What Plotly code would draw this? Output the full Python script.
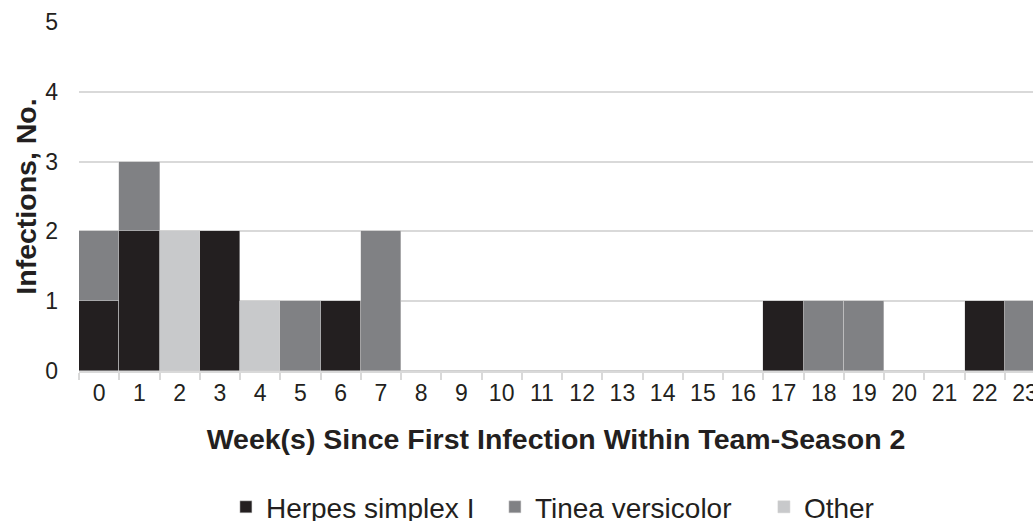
import plotly.graph_objects as go

weeks = list(range(24))
week_labels = [str(w) for w in weeks]
herpes = [1, 2, 0, 2, 0, 0, 1, 0, 0, 0, 0, 0, 0, 0, 0, 0, 0, 1, 0, 0, 0, 0, 1, 0]
tinea = [1, 1, 0, 0, 0, 1, 0, 2, 0, 0, 0, 0, 0, 0, 0, 0, 0, 0, 1, 1, 0, 0, 0, 1]
other = [0, 0, 2, 0, 1, 0, 0, 0, 0, 0, 0, 0, 0, 0, 0, 0, 0, 0, 0, 0, 0, 0, 0, 0]

series = [
    ("Herpes simplex I", herpes, "#231f20"),
    ("Tinea versicolor", tinea, "#808184"),
    ("Other", other, "#c8c9cb"),
]

fig = go.Figure()
for name, vals, color in series:
    fig.add_trace(go.Bar(
        x=weeks, y=vals, name=name,
        marker=dict(color=color, line=dict(color="#d0d0d0", width=0.5)),
    ))

font_family = "Liberation Sans, Arial, sans-serif"
fig.update_layout(
    width=1033, height=521,
    barmode="stack", bargap=0,
    plot_bgcolor="white", paper_bgcolor="white",
    margin=dict(l=79, r=0, t=22, b=150, autoexpand=False),
    font=dict(family=font_family, color="#231f20"),
    xaxis=dict(
        range=[-0.5, 23.2],
        tickmode="array", tickvals=weeks, ticktext=week_labels,
        ticks="", tickfont=dict(size=23), ticklabeloverflow="allow",
        showline=True, linecolor="#d9d9d9", linewidth=2,
        showgrid=False, automargin=False,
        minor=dict(tickvals=[w - 0.5 for w in weeks] + [23.5], ticks="outside",
                   ticklen=7, tickcolor="#d9d9d9", tickwidth=1.5, showgrid=False),
        title=dict(text="<b>Week(s) Since First Infection Within Team-Season 2</b>",
                   font=dict(size=28.5), standoff=24),
    ),
    yaxis=dict(
        range=[0, 5], dtick=1,
        tickfont=dict(size=23), ticklabelstandoff=20,
        showgrid=True, gridcolor="#d9d9d9", gridwidth=1.5,
        zeroline=False, ticks="", automargin=False,
        title=dict(text="<b>Infections, No.</b>", font=dict(size=28.5), standoff=0),
    ),
    legend=dict(
        orientation="h", x=0.154, xanchor="left", y=-0.39, yanchor="middle",
        font=dict(size=28), traceorder="normal", itemwidth=30,
        entrywidth=224,
    ),
)

fig.write_html(
    "out.html",
    config={"displayModeBar": False},
    post_script="document.body.style.margin='0';document.body.style.overflow='hidden';",
)
